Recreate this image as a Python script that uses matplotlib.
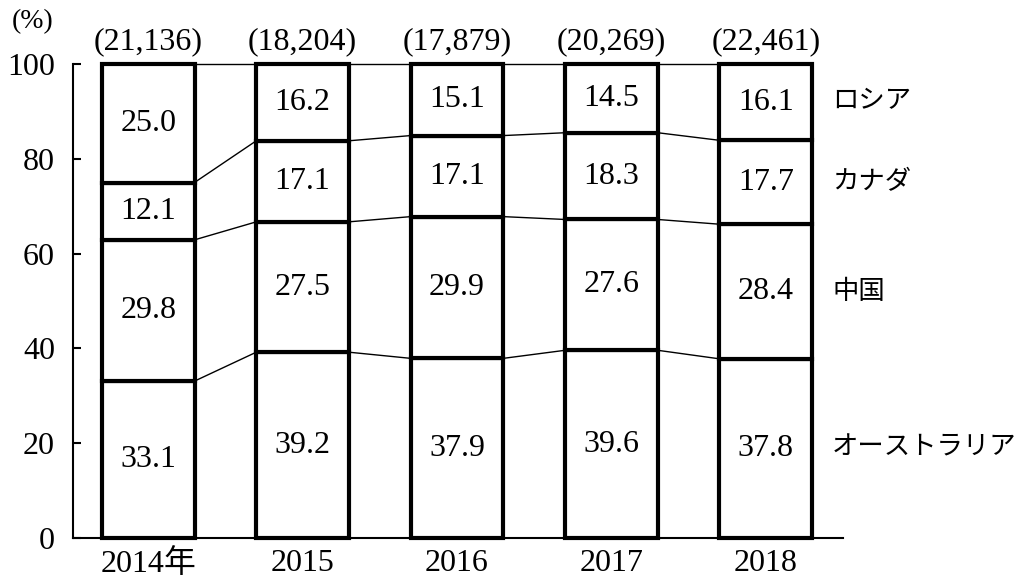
import matplotlib
matplotlib.use("Agg")
import matplotlib.pyplot as plt
import numpy as np

years = ["2014年", "2015", "2016", "2017", "2018"]
totals = ["(21,136)", "(18,204)", "(17,879)", "(20,269)", "(22,461)"]
countries = ["オーストラリア", "中国", "カナダ", "ロシア"]
australia = [33.1, 39.2, 37.9, 39.6, 37.8]
china = [29.8, 27.5, 29.9, 27.6, 28.4]
canada = [12.1, 17.1, 17.1, 18.3, 17.7]
russia = [25.0, 16.2, 15.1, 14.5, 16.1]
series = [australia, china, canada, russia]

plt.rcParams['font.family'] = ['Liberation Serif', 'Noto Sans CJK JP']

fig = plt.figure(figsize=(10.22, 5.78), dpi=100)
ax = fig.add_axes([73/1022, 1-538/578, (843-73)/1022, (538-64)/578])

x = np.arange(len(years))
width = 0.6
bottoms = np.zeros(len(years))
bounds = [np.zeros(len(years))]
for s in series:
    vals = np.array(s)
    ax.bar(x, vals, width, bottom=bottoms, facecolor='white', edgecolor='black',
           linewidth=3, zorder=3, clip_on=False)
    for xi, b, v in zip(x, bottoms, vals):
        ax.text(xi, b + v/2, f"{v:.1f}", ha='center', va='center', fontsize=23, zorder=4)
    bottoms = bottoms + vals
    bounds.append(bottoms.copy())

# connector lines
for bnd in bounds[1:]:
    for i in range(len(x)-1):
        ax.plot([x[i]+width/2, x[i+1]-width/2], [bnd[i], bnd[i+1]], color='black',
                lw=1, zorder=2, clip_on=False)

# right labels
last = len(x)-1
for k, name in enumerate(countries):
    mid = bounds[k][last] + series[k][last]/2
    ax.text(4.43, mid, name, ha='left', va='center', fontsize=19, clip_on=False)

# totals
for xi, t in zip(x, totals):
    ax.text(xi, 104.8, t, ha='center', va='center', fontsize=23, clip_on=False)

ax.text(-0.746, 109, "(%)", ha='center', va='center', fontsize=20, clip_on=False)

ax.set_xlim(-0.487, 4.5)
ax.set_ylim(0, 100)
ax.set_yticks([0, 20, 40, 60, 80, 100])
ax.set_yticklabels(["0", "20", "40", "60", "80", "100"], fontsize=23)
ax.set_xticks(x)
ax.set_xticklabels(years, fontsize=23)
ax.tick_params(axis='y', direction='in', length=6, width=1.5, pad=13)
ax.tick_params(axis='x', length=0, pad=8)
ax.spines['top'].set_visible(False)
ax.spines['right'].set_visible(False)
ax.spines['left'].set_linewidth(1.5)
ax.spines['bottom'].set_linewidth(1.5)

fig.savefig("out.png", dpi=100)
